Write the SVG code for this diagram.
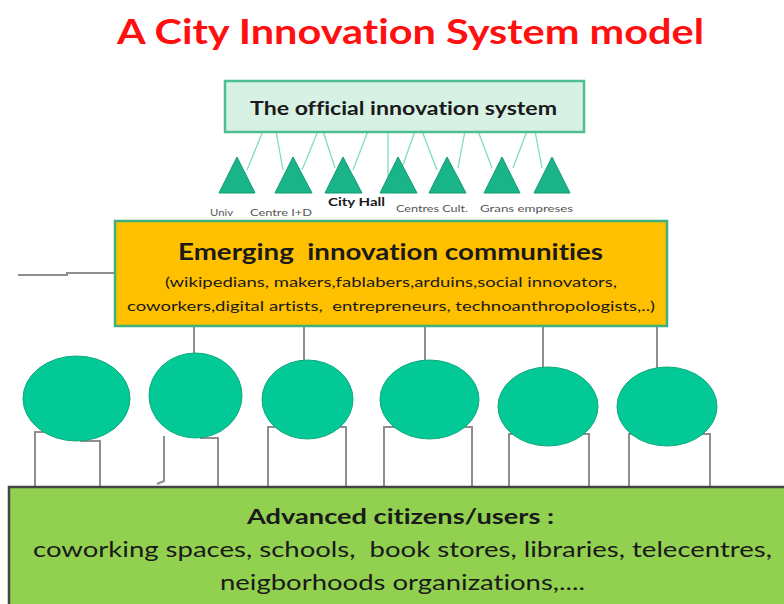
<svg xmlns="http://www.w3.org/2000/svg" width="784" height="604" viewBox="0 0 784 604">
<style>
text{font-family:Lato,"Open Sans","Liberation Sans",sans-serif;white-space:pre;font-variant-ligatures:none;}
.tri{fill:#19b488;stroke:#109a72;stroke-width:1;}
.ell{fill:#02c996;stroke:#10a97c;stroke-width:1;}
.tl{stroke:#7fdcc2;stroke-width:1.3;fill:none;}
.gl{stroke:#8e8e8e;stroke-width:2;fill:none;}
.lab{font-size:10px;fill:#555;}
.dark{fill:#1a1a1a;font-weight:bold;}
.body{fill:#1a1a1a;}
</style>
<rect width="784" height="604" fill="#ffffff"/>
<text x="117" y="44" font-size="35" font-weight="bold" fill="#ff1010" textLength="587" lengthAdjust="spacingAndGlyphs">A City Innovation System model</text>

<g id="connectors">
  <path class="tl" d="M263,131 L247,170 M276,131 L283,170 M318,131 L302,170 M323,131 L335,168 M368,131 L353,170 M388,131 L388,178 M415,131 L403,165 M422,131 L437,170 M465,131 L458,168 M478,131 L492,168 M527,131 L513,168 M535,131 L542,168"/>
  <path d="M282,132.5 H373" stroke="#4a4a4a" stroke-width="1.2" fill="none"/>
  <path class="gl" d="M18,275 H67 V273 H115" stroke="#666"/>
  <path class="gl" d="M194,327 V356 M304,327 V362 M425,327 V362 M543,327 V369 M657,327 V369"/>
  <path class="gl" d="M35,486 V432 H60 M100,486 V441 H80 M164,436 V481 L157,484 M218,486 V438 H200 M268,486 V427 H290 M346,486 V427 H325 M384,486 V427 H405 M472,486 V427 H450 M509,486 V434 H530 M589,486 V434 H570 M629,486 V434 H650 M710,486 V434 H690"/>
</g>

<g id="official">
  <rect x="225" y="81" width="359" height="51" fill="#d7f1e4" stroke="#4fbf93" stroke-width="2.5"/>
  <text x="250" y="115" font-size="19" class="dark" textLength="307" lengthAdjust="spacingAndGlyphs">The official innovation system</text>
</g>

<g id="triangles">
  <polygon class="tri" points="237,157 255,193 219,193"/>
  <polygon class="tri" points="293,157 312,193 275,193"/>
  <polygon class="tri" points="343,157 362,193 325,193"/>
  <polygon class="tri" points="398,157 417,193 380,193"/>
  <polygon class="tri" points="447,157 466,193 429,193"/>
  <polygon class="tri" points="502,157 520,193 484,193"/>
  <polygon class="tri" points="552,157 570,193 534,193"/>
  <text x="210" y="216" class="lab" textLength="23" lengthAdjust="spacingAndGlyphs">Univ</text>
  <text x="250" y="216" class="lab" textLength="62" lengthAdjust="spacingAndGlyphs">Centre I+D</text>
  <text x="328" y="206" font-size="11" class="dark" fill="#333" textLength="57" lengthAdjust="spacingAndGlyphs">City Hall</text>
  <text x="396" y="212" class="lab" textLength="72" lengthAdjust="spacingAndGlyphs">Centres Cult.</text>
  <text x="480" y="212" class="lab" textLength="93" lengthAdjust="spacingAndGlyphs">Grans empreses</text>
</g>

<g id="emerging">
  <rect x="115" y="221" width="552" height="105" fill="#ffc000" stroke="#3fb07e" stroke-width="2.5"/>
  <text x="178" y="260" font-size="22" class="dark" textLength="425" lengthAdjust="spacingAndGlyphs">Emerging  innovation communities</text>
  <text x="165" y="287" font-size="14" class="body" textLength="452" lengthAdjust="spacingAndGlyphs">(wikipedians, makers,fablabers,arduins,social innovators,</text>
  <text x="127" y="311" font-size="14" class="body" textLength="528" lengthAdjust="spacingAndGlyphs">coworkers,digital artists,  entrepreneurs, technoanthropologists,..)</text>
</g>

<g id="ellipse1"><ellipse class="ell" cx="76.5" cy="398.5" rx="53.5" ry="42.5"/></g>
<g id="ellipse2"><ellipse class="ell" cx="195.5" cy="395.5" rx="46.5" ry="42.5"/></g>
<g id="ellipse3"><ellipse class="ell" cx="307.5" cy="399.5" rx="45.5" ry="39.5"/></g>
<g id="ellipse4"><ellipse class="ell" cx="429.5" cy="399.5" rx="49.5" ry="39.5"/></g>
<g id="ellipse5"><ellipse class="ell" cx="548" cy="406.5" rx="50" ry="39.5"/></g>
<g id="ellipse6"><ellipse class="ell" cx="667" cy="406.5" rx="50" ry="39.5"/></g>

<g id="citizens">
  <rect x="9" y="487" width="790" height="130" fill="#92d050" stroke="#454545" stroke-width="2.5"/>
  <text x="247" y="524" font-size="21" class="dark" textLength="307" lengthAdjust="spacingAndGlyphs">Advanced citizens/users :</text>
  <text x="33" y="557" font-size="22" class="body" textLength="739" lengthAdjust="spacingAndGlyphs">coworking spaces, schools,  book stores, libraries, telecentres,</text>
  <text x="220" y="590" font-size="22" class="body" textLength="365" lengthAdjust="spacingAndGlyphs">neigborhoods organizations,....</text>
</g>
</svg>
